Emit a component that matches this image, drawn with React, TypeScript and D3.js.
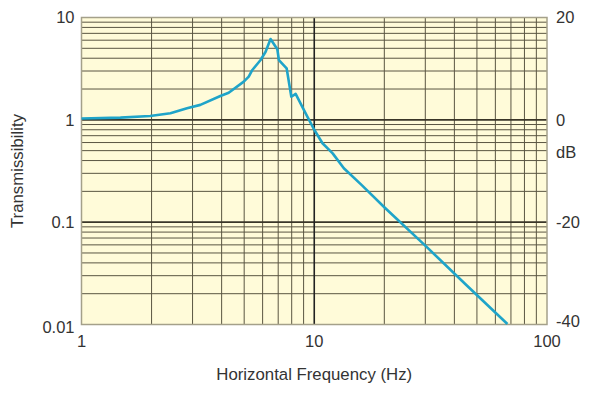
import React from 'react';
import * as d3 from 'd3';

// transmissibility curve
const freqHz = [1, 1.47, 1.97, 2.41, 2.84, 3.24, 3.95, 4.29, 4.98, 5.23, 5.42, 5.88, 6.18, 6.49, 6.94, 7.05, 7.61, 7.97, 8.32, 9.35, 10, 10.85, 12, 13.4, 16, 20, 30, 45, 67.6];
const transmissibility = [1.03, 1.05, 1.09, 1.16, 1.3, 1.4, 1.71, 1.84, 2.36, 2.64, 3.07, 3.84, 4.63, 6.16, 4.89, 3.84, 3.19, 1.68, 1.79, 1.07, 0.8, 0.59, 0.47, 0.336, 0.23, 0.14, 0.059, 0.0243, 0.0101];

const xTicks = [1, 10, 100];
const xTickLabels = ['1', '10', '100'];
const yTicks = [10, 1, 0.1, 0.01];
const yTickLabels = ['10', '1', '0.1', '0.01'];
const dbTicks = [20, 0, -20, -40];

const W = 600;
const H = 398;
const left = 81.5, right = 547, top = 17.5, bottom = 324.5;
const font = '"Liberation Sans", Arial, sans-serif';
const textColor = '#333';
const gridColor = '#5a5542';

export default function App() {
    const x = d3.scaleLog().domain([1, 100]).range([left, right]);
    const y = d3.scaleLog().domain([0.01, 10]).range([bottom, top]);
    const yDb = d3.scaleLinear().domain([-40, 20]).range([bottom, top]);

    const minorX = x.ticks().filter(t => !xTicks.includes(t));
    const minorY = y.ticks().filter(t => !yTicks.some(v => Math.abs(v - t) < 1e-9));

    const lineGen = d3.line<number>()
        .x((d, i) => x(freqHz[i]))
        .y(d => y(d));

    return (
        <svg width={W} height={H} style={{ position: 'absolute', left: 0, top: 0 }} fontFamily={font}>
            <rect x={left} y={top} width={right - left} height={bottom - top} fill="#fffbd9" />

            {minorY.map(t => (
                <line key={'hy' + t} x1={left} x2={right} y1={y(t)} y2={y(t)} stroke={gridColor} strokeWidth={1} />
            ))}
            {minorX.map(t => (
                <line key={'vx' + t} x1={x(t)} x2={x(t)} y1={top} y2={bottom} stroke={gridColor} strokeWidth={1} />
            ))}
            {[1, 0.1].map(t => (
                <line key={'my' + t} x1={left} x2={right} y1={y(t)} y2={y(t)} stroke="#3a3628" strokeWidth={1.8} />
            ))}
            <line x1={x(10)} x2={x(10)} y1={top} y2={bottom} stroke="#222" strokeWidth={1.6} />

            <rect x={left} y={top} width={right - left} height={bottom - top} fill="none" stroke="#a4a08a" strokeWidth={1.5} />

            <path d={lineGen(transmissibility) || ''} fill="none" stroke="#1fa4c9" strokeWidth={2.6} strokeLinejoin="round" />

            {yTicks.map((t, i) => (
                <text key={'yl' + t} x={left - 7} y={y(t) + (t === 0.01 ? 3 : 0)} dy="0.36em" textAnchor="end" fontSize={16.5} fill={textColor}>
                    {yTickLabels[i]}
                </text>
            ))}
            {dbTicks.map(t => (
                <text key={'db' + t} x={right + 9} y={yDb(t) + (t === -40 ? -3 : 0)} dy="0.36em" textAnchor="start" fontSize={16.5} fill={textColor}>
                    {t}
                </text>
            ))}
            <text x={right + 9} y={yDb(0) + 32} dy="0.36em" fontSize={16.5} fill={textColor}>dB</text>

            {xTicks.map((t, i) => (
                <text key={'xl' + t} x={x(t)} y={bottom + 22} textAnchor="middle" fontSize={16.5} fill={textColor}>
                    {xTickLabels[i]}
                </text>
            ))}
            <text x={(left + right) / 2} y={380} textAnchor="middle" fontSize={16.8} fill={textColor}>
                Horizontal Frequency (Hz)
            </text>
            <text transform={`translate(23,${(top + bottom) / 2}) rotate(-90)`} textAnchor="middle" fontSize={16.8} fill={textColor}>
                Transmissibility
            </text>
        </svg>
    );
}
